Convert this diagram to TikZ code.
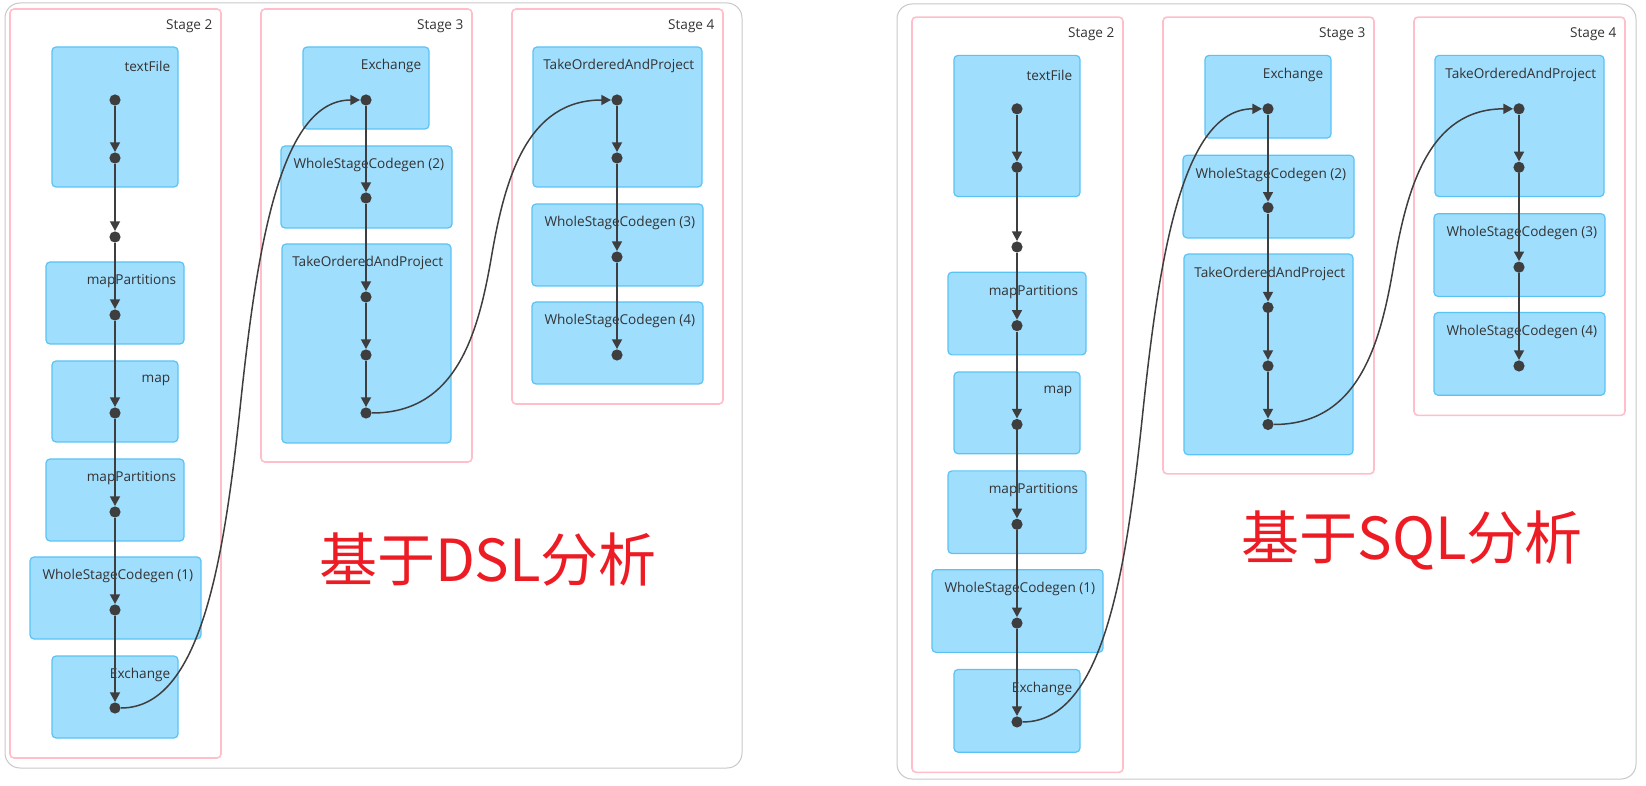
\documentclass[tikz,border=0pt]{standalone}
\usepackage{fontspec}
\setmainfont{Open Sans}
\newfontfamily\cjk{Noto Sans CJK SC}
\usepackage{xcolor}
\usetikzlibrary{arrows.meta,fit}
\definecolor{opfill}{RGB}{160,222,254}
\definecolor{opline}{RGB}{90,195,245}
\definecolor{stageline}{RGB}{255,190,202}
\definecolor{dotgray}{RGB}{62,62,62}
\definecolor{framegray}{RGB}{200,200,200}
\definecolor{notered}{RGB}{237,28,36}

\begin{document}
\begin{tikzpicture}[x=0.5pt, y=-0.5pt,
  frame/.style={draw=framegray, line width=0.5pt, rounded corners=7.5pt},
  stagebox/.style={draw=stageline, line width=0.8pt, rounded corners=2pt, inner sep=0pt},
  opbox/.style={draw=opline, fill=opfill, line width=0.6pt, rounded corners=2pt, inner sep=0pt},
  oplabel/.style={anchor=east, inner sep=0pt, text=black!80, font=\fontsize{6.8}{8}\selectfont},
  dot/.style={circle, fill=dotgray, inner sep=0pt, minimum size=5.6pt},
  flow/.style={draw=dotgray, line width=0.75pt, -{Triangle[length=4.8pt,width=5pt]}},
  note/.style={text=notered, font=\cjk\fontsize{29}{34}\selectfont}]
 \useasboundingbox (0,0) rectangle (1646,786);
 % Frames
 \draw[frame] (5,3) rectangle (742,768);
 \draw[frame] (897,4) rectangle (1636,779);
 \foreach \p/\dx/\dy/\ys in {L/0/0/-0.5, R/902/8/-0.5042}{
 \begin{scope}[xshift=\dx*0.5pt, yshift=-\dy*0.5pt, y=\ys pt]
	% Stages
	\foreach \n/\a/\b/\c/\d/\t in {s2/10/9/221/758/Stage 2, s3/261/9/472/462/Stage 3, s4/512/9/723/404/Stage 4}{
		\node[stagebox, fit={(\a,\b) (\c,\d)}] (\p-\n) {};
		\node[oplabel] (\p-\n-t) at ([shift={(-9,18)}]\p-\n.north east) {\t};
	}
	% Operators
	\foreach \n/\a/\b/\c/\d/\t in {tf/52/47/178/187/textFile, mp1/46/262/184/344/mapPartitions,
		map/52/361/178/442/map, mp2/46/459/184/541/mapPartitions, wc1/30/557/201/639/WholeStageCodegen (1),
		ex1/52/656/178/738/Exchange, ex2/303/47/429/129/Exchange, wc2/281/146/452/228/WholeStageCodegen (2),
		to3/282/244/451/443/TakeOrderedAndProject, to4/533/47/702/187/TakeOrderedAndProject,
		wc3/532/204/703/286/WholeStageCodegen (3), wc4/532/302/703/384/WholeStageCodegen (4)}{
		\node[opbox, fit={(\a,\b) (\c,\d)}] (\p-\n) {};
		\node[oplabel] (\p-\n-t) at ([shift={(-8,20)}]\p-\n.north east) {\t};
	}
	% Dots
	\foreach \y [count=\i] in {100,158,237,315,413,512,610,708} \node[dot] (\p-a\i) at (115,\y) {};
	\foreach \y [count=\i] in {100,198,297,355,413} \node[dot] (\p-b\i) at (366,\y) {};
	\foreach \y [count=\i] in {100,158,257,355} \node[dot] (\p-c\i) at (617,\y) {};
	\coordinate (\p-m1) at (240.5,404);
	\coordinate (\p-m2) at (491.5,256.5);
	% Arrows
	\foreach \i [count=\j from 2] in {1,...,7} \draw[flow] (\p-a\i) -- (\p-a\j);
	\foreach \i [count=\j from 2] in {1,...,4} \draw[flow] (\p-b\i) -- (\p-b\j);
	\foreach \i [count=\j from 2] in {1,2,3} \draw[flow] (\p-c\i) -- (\p-c\j);
	\draw[flow] (\p-a8.east) .. controls +(80,0) and +(-16.5,156) .. (\p-m1)
		.. controls +(16.5,-156) and +(-80,0) .. (\p-b1.west);
	\draw[flow] (\p-b5.east) .. controls +(84,0) and +(-13.5,78.5) .. (\p-m2)
		.. controls +(13.5,-78.5) and +(-84,0) .. (\p-c1.west);
 \end{scope}}
 % Notes
 \node[note] (dsl) at (488,560) {基于DSL分析};
 \node[note] (sql) at (1412,540) {基于SQL分析};
\end{tikzpicture}
\end{document}
